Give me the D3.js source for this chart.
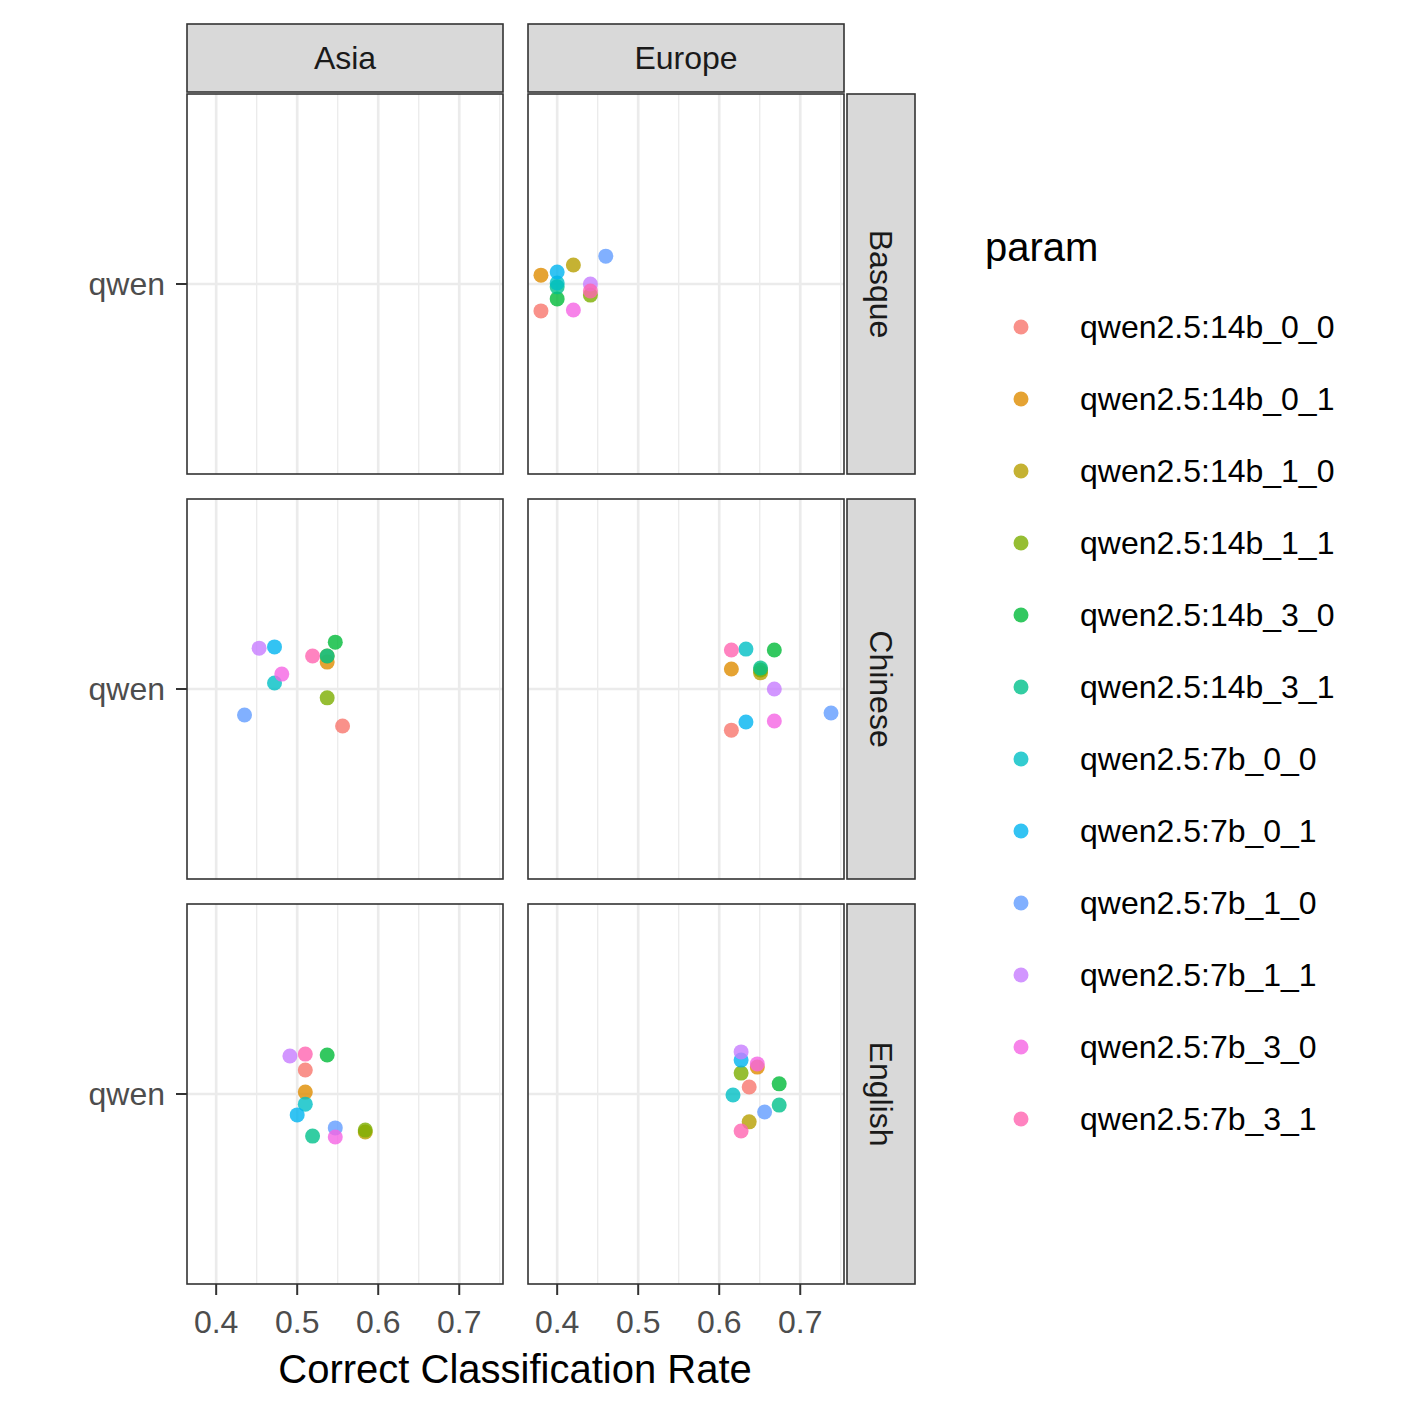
<!DOCTYPE html>
<html>
<head>
<meta charset="utf-8">
<script src="https://cdn.jsdelivr.net/npm/d3@7"></script>
<style>body{margin:0;background:#fff}text{font-family:"Liberation Sans",Arial,sans-serif}</style>
</head>
<body>
<script>
var w = 1417, h = 1417;

var regions = ["Asia", "Europe"];
var languages = ["Basque", "Chinese", "English"];
var params = ["qwen2.5:14b_0_0","qwen2.5:14b_0_1","qwen2.5:14b_1_0","qwen2.5:14b_1_1",
  "qwen2.5:14b_3_0","qwen2.5:14b_3_1","qwen2.5:7b_0_0","qwen2.5:7b_0_1",
  "qwen2.5:7b_1_0","qwen2.5:7b_1_1","qwen2.5:7b_3_0","qwen2.5:7b_3_1"];
var colors = ["#F8766D","#DE8C00","#B79F00","#7CAE00","#00BA38","#00C08B",
  "#00BFC4","#00B4F0","#619CFF","#C77CFF","#F564E3","#FF64B0"];
var xTicks = [0.4, 0.5, 0.6, 0.7];
var xMinor = [0.45, 0.55, 0.65, 0.75];

// rate per param (same order as params), jitter = vertical jitter in category units
var basqueEuropeRate   = [0.380,0.380,0.420,0.441,0.400,0.400,0.400,0.400,0.460,0.441,0.420,0.441];
var basqueEuropeJitter = [-0.085,0.028,0.060,-0.035,-0.047,-0.009,0.003,0.038,0.088,0.000,-0.082,-0.022];
var chineseAsiaRate    = [0.556,0.537,0.537,0.537,0.547,0.537,0.472,0.472,0.435,0.453,0.481,0.519];
var chineseAsiaJitter  = [-0.117,0.085,0.104,-0.028,0.148,0.104,0.019,0.133,-0.082,0.129,0.047,0.104];
var chineseEuropeRate  = [0.615,0.615,0.651,0.651,0.668,0.651,0.633,0.633,0.738,0.668,0.668,0.615];
var chineseEuropeJitter= [-0.130,0.063,0.051,0.060,0.123,0.066,0.126,-0.104,-0.076,0.000,-0.101,0.123];
var englishAsiaRate    = [0.510,0.510,0.584,0.584,0.537,0.519,0.510,0.500,0.547,0.491,0.547,0.510];
var englishAsiaJitter  = [0.076,0.006,-0.120,-0.114,0.123,-0.133,-0.032,-0.066,-0.107,0.120,-0.136,0.126];
var englishEuropeRate  = [0.637,0.647,0.637,0.627,0.674,0.674,0.617,0.627,0.656,0.627,0.647,0.627];
var englishEuropeJitter= [0.022,0.085,-0.088,0.066,0.032,-0.035,-0.003,0.107,-0.057,0.133,0.095,-0.117];

var panels = [
  {lang:"Basque", region:"Europe", rate:basqueEuropeRate, jit:basqueEuropeJitter},
  {lang:"Chinese", region:"Asia", rate:chineseAsiaRate, jit:chineseAsiaJitter},
  {lang:"Chinese", region:"Europe", rate:chineseEuropeRate, jit:chineseEuropeJitter},
  {lang:"English", region:"Asia", rate:englishAsiaRate, jit:englishAsiaJitter},
  {lang:"English", region:"Europe", rate:englishEuropeRate, jit:englishEuropeJitter}
];

var svg = d3.select("body").append("svg").attr("width", w).attr("height", h);

var colX = [187, 528], pw = 316;
var rowY = [94, 499, 904], ph = 380;

var x = d3.scaleLinear().domain([0.364, 0.754]).range([0, pw]);
var y = d3.scaleLinear().domain([0.4, 1.6]).range([ph, 0]);

regions.forEach(function (reg, ci) {
  languages.forEach(function (lang, ri) {
    var g = svg.append("g").attr("transform", "translate(" + colX[ci] + "," + rowY[ri] + ")");
    g.append("rect").attr("width", pw).attr("height", ph).attr("fill", "#fff");
    g.selectAll(".mn").data(xMinor).enter().append("line")
      .attr("x1", x).attr("x2", x).attr("y1", 0).attr("y2", ph)
      .attr("stroke", "#EBEBEB").attr("stroke-width", 1.3);
    g.selectAll(".mj").data(xTicks).enter().append("line")
      .attr("x1", x).attr("x2", x).attr("y1", 0).attr("y2", ph)
      .attr("stroke", "#EBEBEB").attr("stroke-width", 2.7);
    g.append("line").attr("x1", 0).attr("x2", pw).attr("y1", y(1)).attr("y2", y(1))
      .attr("stroke", "#EBEBEB").attr("stroke-width", 2.7);

    var p = panels.find(function (d) { return d.lang == lang && d.region == reg; });
    if (p) {
      g.selectAll("circle").data(params).enter().append("circle")
        .attr("cx", function (d, i) { return x(p.rate[i]); })
        .attr("cy", function (d, i) { return y(1 + p.jit[i]); })
        .attr("r", 7.5)
        .attr("fill", function (d, i) { return colors[i]; })
        .attr("fill-opacity", 0.8);
    }
    g.append("rect").attr("width", pw).attr("height", ph).attr("fill", "none")
      .attr("stroke", "#333").attr("stroke-width", 1.6);

    if (ci == 0) {
      g.append("line").attr("x1", -11).attr("x2", 0).attr("y1", y(1)).attr("y2", y(1))
        .attr("stroke", "#333").attr("stroke-width", 2);
      g.append("text").attr("x", -22).attr("y", y(1)).attr("dy", "0.35em")
        .attr("text-anchor", "end").attr("font-size", 32).attr("fill", "#4D4D4D").text("qwen");
    }
    if (ri == 2) {
      g.selectAll(".tk").data(xTicks).enter().append("line")
        .attr("x1", x).attr("x2", x).attr("y1", ph).attr("y2", ph + 11)
        .attr("stroke", "#333").attr("stroke-width", 2);
      g.selectAll(".tl").data(xTicks).enter().append("text")
        .attr("x", x).attr("y", ph + 49).attr("text-anchor", "middle")
        .attr("font-size", 32).attr("fill", "#4D4D4D").text(function (d) { return d.toFixed(1); });
    }
    if (ri == 0) {
      svg.append("rect").attr("x", colX[ci]).attr("y", 24).attr("width", pw).attr("height", 68)
        .attr("fill", "#D9D9D9").attr("stroke", "#333").attr("stroke-width", 1.6);
      svg.append("text").attr("x", colX[ci] + pw / 2).attr("y", 58).attr("dy", "0.35em")
        .attr("text-anchor", "middle").attr("font-size", 32).attr("fill", "#1A1A1A").text(reg);
    }
    if (ci == 1) {
      svg.append("rect").attr("x", 847).attr("y", rowY[ri]).attr("width", 68).attr("height", ph)
        .attr("fill", "#D9D9D9").attr("stroke", "#333").attr("stroke-width", 1.6);
      svg.append("text").attr("transform", "translate(881," + (rowY[ri] + ph / 2) + ") rotate(90)")
        .attr("dy", "0.35em").attr("text-anchor", "middle").attr("font-size", 32)
        .attr("fill", "#1A1A1A").text(lang);
    }
  });
});

svg.append("text").attr("x", 515).attr("y", 1383).attr("text-anchor", "middle")
  .attr("font-size", 40).attr("fill", "#000").text("Correct Classification Rate");

svg.append("text").attr("x", 985).attr("y", 261).attr("font-size", 40).attr("fill", "#000").text("param");
var leg = svg.selectAll(".leg").data(params).enter().append("g")
  .attr("transform", function (d, i) { return "translate(1021," + (327 + 72 * i) + ")"; });
leg.append("circle").attr("r", 7.5).attr("fill", function (d, i) { return colors[i]; }).attr("fill-opacity", 0.8);
leg.append("text").attr("x", 59).attr("dy", "0.35em").attr("font-size", 32).attr("fill", "#000").text(function (d) { return d; });
</script>
</body>
</html>
